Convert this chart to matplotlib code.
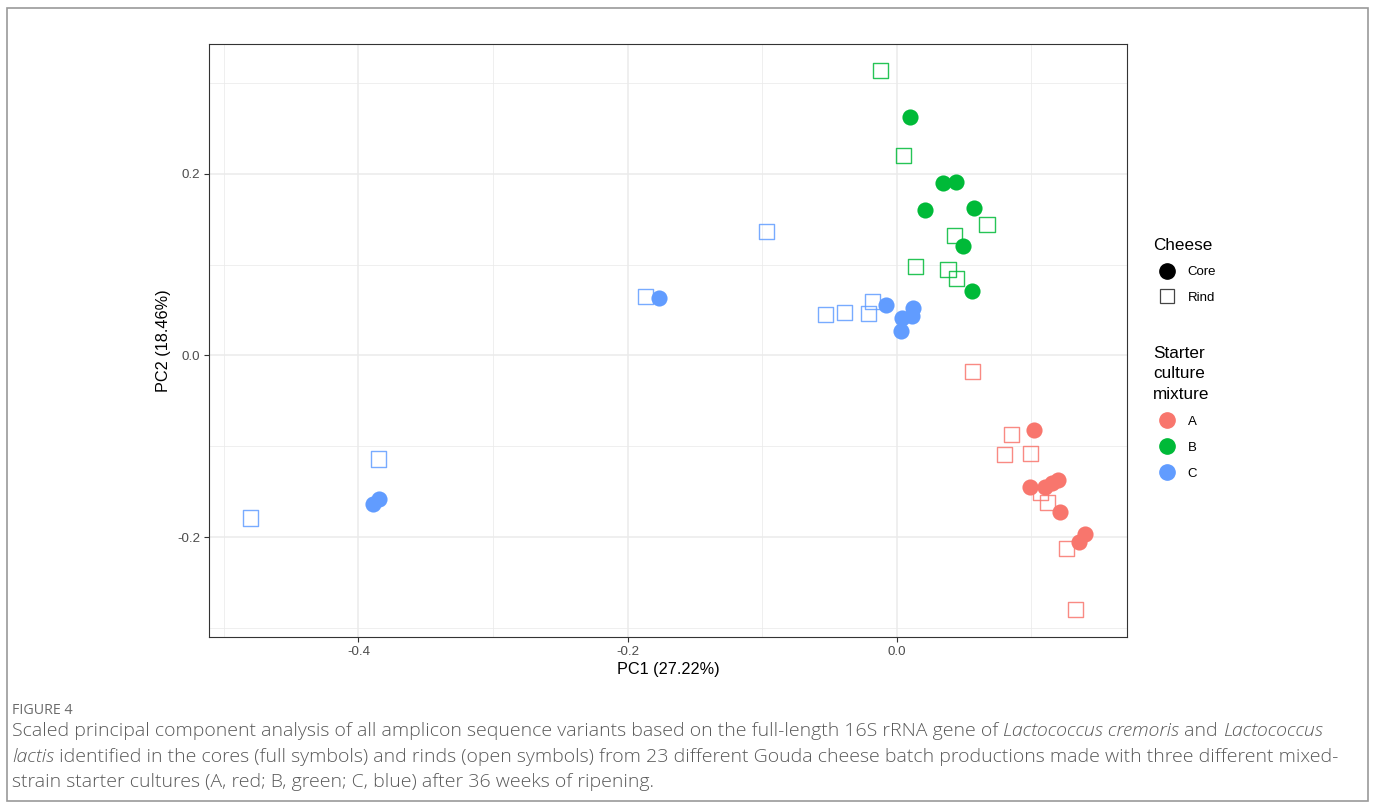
import matplotlib.pyplot as plt
from matplotlib.lines import Line2D
from matplotlib.patches import Rectangle

# PCA scores
core_A_pc1 = [0.102, 0.099, 0.110, 0.115, 0.120, 0.121, 0.135, 0.140]
core_A_pc2 = [-0.082, -0.145, -0.145, -0.140, -0.137, -0.172, -0.205, -0.197]
rind_A_pc1 = [0.056, 0.085, 0.080, 0.099, 0.107, 0.112, 0.126, 0.133]
rind_A_pc2 = [-0.018, -0.087, -0.109, -0.108, -0.151, -0.162, -0.213, -0.280]

core_B_pc1 = [0.010, 0.034, 0.044, 0.021, 0.057, 0.049, 0.056]
core_B_pc2 = [0.263, 0.190, 0.191, 0.160, 0.162, 0.121, 0.071]
rind_B_pc1 = [-0.012, 0.005, 0.067, 0.043, 0.014, 0.038, 0.044]
rind_B_pc2 = [0.314, 0.220, 0.144, 0.132, 0.098, 0.095, 0.085]

core_C_pc1 = [-0.177, -0.008, 0.012, 0.004, 0.011, 0.003, -0.389, -0.385]
core_C_pc2 = [0.063, 0.056, 0.052, 0.041, 0.043, 0.027, -0.163, -0.158]
rind_C_pc1 = [-0.097, -0.187, -0.053, -0.039, -0.021, -0.018, -0.385, -0.480]
rind_C_pc2 = [0.137, 0.065, 0.045, 0.047, 0.046, 0.059, -0.114, -0.179]

mixtures = ['A', 'B', 'C']
colors = ['#F8766D', '#00BA38', '#619CFF']
core_x = [core_A_pc1, core_B_pc1, core_C_pc1]
core_y = [core_A_pc2, core_B_pc2, core_C_pc2]
rind_x = [rind_A_pc1, rind_B_pc1, rind_C_pc1]
rind_y = [rind_A_pc2, rind_B_pc2, rind_C_pc2]

plt.rcParams['font.family'] = ['Liberation Sans', 'DejaVu Sans']

fig = plt.figure(figsize=(13.75, 8.1), dpi=100)
ax = fig.add_axes([209 / 1375, 1 - 637 / 810, (1127 - 209) / 1375, (637 - 44) / 810])

# outer frame of the figure box
fig.patches.append(Rectangle((7 / 1375, 1 - 801 / 810), 1361 / 1375, 793 / 810,
                             transform=fig.transFigure, fill=False,
                             edgecolor='#9a9a9a', linewidth=1.2))

for xs, ys, c in zip(rind_x, rind_y, colors):
    ax.scatter(xs, ys, marker='s', s=118, facecolors='none', edgecolors=c,
               linewidths=1.0, alpha=0.85, zorder=3)
for xs, ys, c in zip(core_x, core_y, colors):
    ax.scatter(xs, ys, marker='o', s=135, color=c, linewidths=0, zorder=4)

ax.set_xlim(-0.511, 0.171)
ax.set_ylim(-0.31, 0.343)
ax.set_xticks([-0.4, -0.2, 0.0])
ax.set_xticklabels(['-0.4', '-0.2', '0.0'])
ax.set_yticks([-0.2, 0.0, 0.2])
ax.set_yticklabels(['-0.2', '0.0', '0.2'])
ax.set_xticks([-0.5, -0.3, -0.1, 0.1], minor=True)
ax.set_yticks([-0.3, -0.1, 0.1, 0.3], minor=True)
ax.grid(True, which='major', color='#ebebeb', linewidth=1.1, zorder=0)
ax.grid(True, which='minor', color='#ebebeb', linewidth=0.55, zorder=0)
ax.set_axisbelow(True)
ax.tick_params(which='major', length=3.5, width=0.8, color='#333333',
               labelcolor='#4d4d4d', labelsize=9.6, pad=3)
ax.tick_params(which='minor', length=0)
for sp in ax.spines.values():
    sp.set_color('#333333')
    sp.set_linewidth(0.8)

ax.set_xlabel('PC1 (27.22%)', fontsize=11.7, labelpad=3)
ax.set_ylabel('PC2 (18.46%)', fontsize=11.7, labelpad=4)

# legends
h_shape = [Line2D([], [], marker='o', linestyle='', color='black', markersize=11),
           Line2D([], [], marker='s', linestyle='', markerfacecolor='none',
                  markeredgecolor='#444444', markersize=10, markeredgewidth=0.9)]
leg1 = fig.legend(h_shape, ['Core', 'Rind'], title='Cheese', loc='upper left',
                  bbox_to_anchor=(1141 / 1375, 1 - 226 / 810), frameon=False,
                  alignment='left', fontsize=9.5, title_fontsize=12.3,
                  handletextpad=0.55, labelspacing=1.0, handlelength=2.1)
h_col = [Line2D([], [], marker='o', linestyle='', color=c, markersize=11) for c in colors]
leg2 = fig.legend(h_col, mixtures, title='Starter\nculture\nmixture', loc='upper left',
                  bbox_to_anchor=(1141 / 1375, 1 - 334 / 810), frameon=False,
                  alignment='left', fontsize=9.5, title_fontsize=12.3,
                  handletextpad=0.55, labelspacing=1.05, handlelength=2.1)
leg2.get_title().set_linespacing(1.45)

# caption
cap_font = ['Open Sans', 'DejaVu Sans']
fig.text(12 / 1375, 1 - 711 / 810, 'FIGURE 4', fontsize=10.3, color='#6b6b6b',
         family=cap_font, va='center')

lines = [
    [('Scaled principal component analysis of all amplicon sequence variants based on the full-length 16S rRNA gene of ', 'normal'),
     ('Lactococcus cremoris', 'italic'), (' and ', 'normal'), ('Lactococcus', 'italic')],
    [('lactis', 'italic'),
     (' identified in the cores (full symbols) and rinds (open symbols) from 23 different Gouda cheese batch productions made with three different mixed-', 'normal')],
    [('strain starter cultures (A, red; B, green; C, blue) after 36 weeks of ripening.', 'normal')],
]
line_y = [731, 757, 782]
renderer = fig.canvas.get_renderer()
for runs, py in zip(lines, line_y):
    x = 12 / 1375
    for txt, style in runs:
        t = fig.text(x, 1 - py / 810, txt, fontsize=14.0, color='#595959',
                     family=cap_font, style=style, weight='light', va='center')
        bb = t.get_window_extent(renderer)
        x += bb.width / (1375)

fig.savefig('out.png', dpi=100)
